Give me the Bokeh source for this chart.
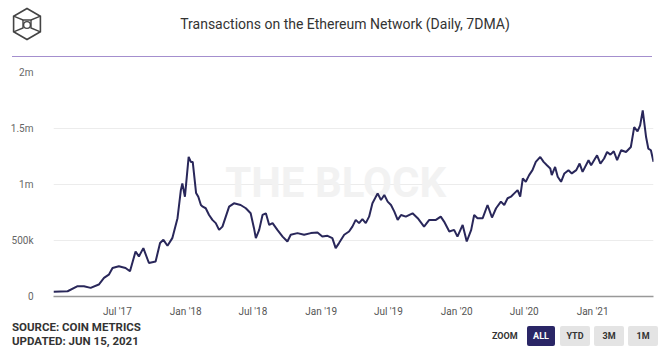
from datetime import datetime
import pandas as pd
from bokeh.plotting import figure
from bokeh.layouts import column
from bokeh.models import Range1d, FixedTicker, DatetimeTickFormatter, ColumnDataSource, Label, Div
from bokeh.embed import file_html
from bokeh.resources import INLINE

# ---------------- data ----------------
TITLE = "Transactions on the Ethereum Network (Daily, 7DMA)"
SOURCE_TEXT = "SOURCE: COIN METRICS"
UPDATED_TEXT = "UPDATED: JUN 15, 2021"
WATERMARK = "THE BLOCK"

dates = [
    "2017-01-10", "2017-02-17", "2017-03-16", "2017-04-02", "2017-04-20", "2017-05-12", "2017-05-26",
    "2017-06-08", "2017-06-18", "2017-07-05", "2017-07-23", "2017-08-04", "2017-08-19", "2017-08-28",
    "2017-09-09", "2017-09-24", "2017-10-12", "2017-10-24", "2017-11-02", "2017-11-13", "2017-11-26",
    "2017-12-10", "2017-12-19", "2017-12-23", "2017-12-30",
    "2018-01-09", "2018-01-15", "2018-01-20", "2018-01-29", "2018-02-04", "2018-02-11", "2018-02-16",
    "2018-02-24", "2018-03-05", "2018-03-14", "2018-03-23", "2018-04-01", "2018-04-10", "2018-04-19",
    "2018-04-28", "2018-05-11", "2018-05-29", "2018-06-12", "2018-06-25", "2018-07-04", "2018-07-09",
    "2018-07-18", "2018-07-27", "2018-08-05", "2018-08-14", "2018-08-23", "2018-09-05", "2018-09-19",
    "2018-10-02", "2018-10-11", "2018-10-29", "2018-11-16", "2018-12-04", "2018-12-22",
    "2019-01-04", "2019-01-18", "2019-01-31", "2019-02-09", "2019-02-18", "2019-03-04", "2019-03-17",
    "2019-03-26", "2019-04-04", "2019-04-13", "2019-04-22", "2019-05-01", "2019-05-10", "2019-05-19",
    "2019-06-02", "2019-06-11", "2019-06-20", "2019-06-29", "2019-07-08", "2019-07-17", "2019-07-26",
    "2019-08-04", "2019-08-17", "2019-09-04", "2019-09-18", "2019-10-05", "2019-10-19", "2019-11-06",
    "2019-11-19", "2019-11-28", "2019-12-12", "2019-12-25",
    "2020-01-03", "2020-01-17", "2020-01-28", "2020-02-09", "2020-02-17", "2020-02-26", "2020-03-11",
    "2020-03-24", "2020-04-05", "2020-04-16", "2020-04-29", "2020-05-08", "2020-05-17", "2020-05-26",
    "2020-06-04", "2020-06-13", "2020-06-20", "2020-06-27", "2020-07-05", "2020-07-14", "2020-07-23",
    "2020-08-01", "2020-08-13", "2020-08-22", "2020-08-31", "2020-09-09", "2020-09-13", "2020-09-22",
    "2020-09-29", "2020-10-08", "2020-10-17", "2020-10-28", "2020-11-06", "2020-11-18", "2020-11-27",
    "2020-12-05", "2020-12-21", "2020-12-28",
    "2021-01-13", "2021-01-22", "2021-02-01", "2021-02-09", "2021-02-18", "2021-02-27", "2021-03-08",
    "2021-03-19", "2021-04-01", "2021-04-14", "2021-04-23", "2021-05-02", "2021-05-09", "2021-05-16",
    "2021-05-25", "2021-05-31", "2021-06-07", "2021-06-14",
]

transactions = [
    42000, 47000, 92000, 92000, 77000, 107000, 166000,
    195000, 255000, 270000, 255000, 225000, 402000, 358000,
    432000, 299000, 313000, 477000, 506000, 453000, 521000,
    699000, 950000, 1010000, 891000,
    1246000, 1202000, 1202000, 925000, 890000, 817000, 802000,
    788000, 728000, 684000, 655000, 595000, 624000, 713000,
    802000, 832000, 817000, 788000, 743000, 610000, 521000,
    595000, 728000, 743000, 639000, 655000, 595000, 535000,
    491000, 551000, 566000, 551000, 566000, 571000,
    535000, 542000, 521000, 432000, 477000, 551000, 580000,
    624000, 684000, 655000, 690000, 655000, 713000, 832000,
    921000, 862000, 906000, 847000, 817000, 758000, 684000,
    728000, 713000, 743000, 699000, 624000, 684000, 684000,
    713000, 669000, 580000, 595000,
    535000, 639000, 491000, 595000, 728000, 699000, 699000,
    817000, 705000, 788000, 847000, 817000, 877000, 891000,
    921000, 950000, 891000, 1054000, 1024000, 1084000, 1128000,
    1202000, 1246000, 1202000, 1172000, 1143000, 1084000, 1157000,
    1069000, 1024000, 1099000, 1128000, 1099000, 1128000, 1187000,
    1113000, 1217000, 1172000,
    1261000, 1187000, 1232000, 1290000, 1267000, 1297000, 1217000,
    1306000, 1290000, 1335000, 1512000, 1474000, 1528000, 1661000,
    1424000, 1321000, 1306000, 1202000,
]

x_tick_dates = ["2017-07-01", "2018-01-01", "2018-07-01", "2019-01-01",
                "2019-07-01", "2020-01-01", "2020-07-01", "2021-01-01"]
x_tick_labels = ["Jul '17", "Jan '18", "Jul '18", "Jan '19",
                 "Jul '19", "Jan '20", "Jul '20", "Jan '21"]
y_ticks = [0, 500000, 1000000, 1500000, 2000000]
y_tick_labels = ["0", "500k", "1m", "1.5m", "2m"]

zoom_buttons = ["ALL", "YTD", "3M", "1M"]

# ---------------- styling ----------------
W = 663
FONT = "Roboto"
LINE_COLOR = "#29275a"
TEXT_DARK = "#333333"

# ---------------- header (logo, title, rule) ----------------
cx, cy, r = 27.0, 24.0, 15.5
hx = [cx, cx + 0.866 * r, cx + 0.866 * r, cx, cx - 0.866 * r, cx - 0.866 * r]
hy = [cy - r, cy - 0.5 * r, cy + 0.5 * r, cy + r, cy + 0.5 * r, cy - 0.5 * r]
hex_pts = " ".join(f"{a:.1f},{b:.1f}" for a, b in zip(hx, hy))
inner = [
    [(hx[5], hy[5]), (cx - 4, cy - 4), (cx + 4, cy - 4), (hx[1], hy[1])],
    [(cx - 4, cy - 4), (cx - 4, cy + 4), (hx[4], hy[4])],
    [(cx + 4, cy - 4), (cx + 4, cy + 4), (hx[2], hy[2])],
]
inner_svg = "".join(
    '<polyline points="' + " ".join(f"{a:.1f},{b:.1f}" for a, b in seg) +
    '" fill="none" stroke="#444" stroke-width="1.4"/>' for seg in inner)
logo_svg = (
    '<svg width="60" height="56" style="position:absolute;left:0;top:0">'
    f'<polygon points="{hex_pts}" fill="none" stroke="#444" stroke-width="1.6"/>'
    f'{inner_svg}'
    f'<circle cx="{cx}" cy="{cy + 1}" r="3.4" fill="none" stroke="#444" stroke-width="1.4"/>'
    '</svg>'
)
header_html = (
    f'<div style="position:relative;width:{W}px;height:60px;background:#fff;'
    f'font-family:{FONT},sans-serif;">'
    f'{logo_svg}'
    f'<div style="position:absolute;left:0;top:16px;width:690px;text-align:center;'
    f'font-size:14px;line-height:16px;color:{TEXT_DARK};white-space:nowrap;">{TITLE}</div>'
    '<div style="position:absolute;left:12px;top:56px;width:640px;height:0;'
    'border-top:1.5px solid #a48fce;"></div>'
    '</div>'
)
header = Div(text=header_html, width=W, height=60, margin=0)

# ---------------- main chart ----------------
src = ColumnDataSource(dict(date=pd.to_datetime(dates), tx=transactions))

p = figure(width=W, height=259, output_backend="svg", toolbar_location=None,
           x_axis_type="datetime",
           x_range=Range1d(datetime(2017, 1, 10), datetime(2021, 6, 14)),
           y_range=Range1d(0, 2000000),
           min_border_left=53, min_border_right=10, min_border_top=12, min_border_bottom=22)
p.outline_line_color = None
p.background_fill_color = "white"
p.border_fill_color = "white"

p.add_layout(Label(x=datetime(2019, 2, 9), y=1020000, text=WATERMARK, text_align="center",
                   text_baseline="middle", text_font=FONT, text_font_size="42px",
                   text_font_style="bold", text_color="#f2f2f2", level="underlay"))

p.line(x="date", y="tx", source=src, line_color=LINE_COLOR, line_width=2)

p.xgrid.visible = False
p.ygrid.grid_line_color = "#ececec"
p.ygrid.grid_line_width = 1

p.yaxis.ticker = FixedTicker(ticks=y_ticks)
p.yaxis.major_label_overrides = {t: l for t, l in zip(y_ticks, y_tick_labels)}
p.yaxis.axis_line_color = None
p.yaxis.major_tick_line_color = None
p.yaxis.minor_tick_line_color = None
p.yaxis.major_label_standoff = 14
p.yaxis.major_label_text_font = FONT
p.yaxis.major_label_text_font_size = "10px"
p.yaxis.major_label_text_color = "#666666"

x_tick_ms = [int(pd.Timestamp(d).value // 10**6) for d in x_tick_dates]
p.xaxis.ticker = FixedTicker(ticks=x_tick_ms)
p.xaxis.formatter = DatetimeTickFormatter(days="%b '%y", months="%b '%y", years="%b '%y")
p.xaxis.major_label_overrides = {t: l for t, l in zip(x_tick_ms, x_tick_labels)}
p.xaxis.axis_line_color = "#999999"
p.xaxis.axis_line_width = 1.5
p.xaxis.major_tick_line_color = None
p.xaxis.minor_tick_line_color = None
p.xaxis.major_label_standoff = 3
p.xaxis.major_label_text_font = FONT
p.xaxis.major_label_text_font_size = "10px"
p.xaxis.major_label_text_color = "#555555"

# ---------------- footer (source, zoom buttons) ----------------
btn_left = [527, 560, 594, 628]
btn_width = [28, 30, 30, 30]
btn_fill = ["#2a2666", "#e4e4e4", "#e4e4e4", "#e4e4e4"]
btn_text_color = ["#ffffff", TEXT_DARK, TEXT_DARK, TEXT_DARK]
buttons_html = "".join(
    f'<div style="position:absolute;left:{l}px;top:7px;width:{w}px;height:20px;line-height:20px;'
    f'text-align:center;background:{f};color:{c};font-size:9px;font-weight:bold;'
    f'border-radius:2px;">{t}</div>'
    for l, w, f, c, t in zip(btn_left, btn_width, btn_fill, btn_text_color, zoom_buttons))
footer_html = (
    f'<div style="position:relative;width:{W}px;height:31px;background:#fff;'
    f'font-family:{FONT},sans-serif;color:{TEXT_DARK};">'
    '<div style="position:absolute;left:12px;top:1px;font-size:11.5px;font-weight:bold;'
    f'line-height:14px;white-space:nowrap;">{SOURCE_TEXT}<br>{UPDATED_TEXT}</div>'
    '<div style="position:absolute;left:492px;top:7px;height:20px;line-height:20px;'
    'font-size:9px;font-weight:bold;">ZOOM</div>'
    f'{buttons_html}'
    '</div>'
)
footer = Div(text=footer_html, width=W, height=31, margin=0)

layout = column(header, p, footer, spacing=0)
open("out.html", "w").write(file_html(layout, INLINE))
